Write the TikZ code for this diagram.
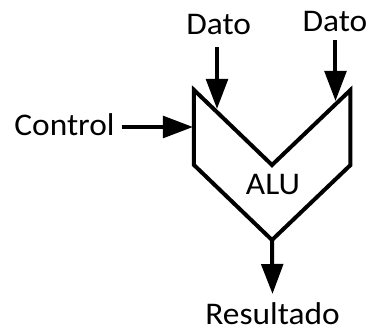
\documentclass[tikz,border=0pt]{standalone}
\usepackage{fontspec}
\setmainfont[FakeStretch=1.06]{Carlito}
\usetikzlibrary{arrows.meta}
\tikzset{
  lbl/.style={inner sep=0pt,anchor=base,font=\fontsize{31.5}{31.5}\selectfont,text=black},
  alubody/.style={draw=black,line width=4pt,line join=miter,fill=white},
  sig/.style={draw=black,line width=4pt,-{Triangle[length=30pt,width=21.5pt,sep=0pt]}},
}
\begin{document}
\begin{tikzpicture}[x=1pt,y=-1pt]
\useasboundingbox (0,0) rectangle (368,329);
\coordinate (tl) at (194,90);
\coordinate (notch) at (272,165);
\coordinate (tr) at (350.5,90);
\coordinate (br) at (350.5,165);
\coordinate (bot) at (272,240);
\coordinate (bl) at (194,165);
\draw[alubody] (tl) -- (notch) -- (tr) -- (br) -- (bot) -- (bl) -- cycle;
\node[lbl] (alu) at (273,194.3) {ALU};
\node[lbl] (dato1) at (218.7,35) {Dato};
\node[lbl] (dato2) at (335,31.7) {Dato};
\node[lbl] (control) at (64.5,136) {Control};
\node[lbl] (result) at (272.5,325) {Resultado};
\coordinate (d1s) at (217,47);
\coordinate (d1e) at (217,109);
\coordinate (d2s) at (335.5,40);
\coordinate (d2e) at (335.5,101);
\coordinate (cs) at (122,127);
\coordinate (ce) at (193,127);
\coordinate (re) at (272.5,294);
\draw[sig] (d1s) -- (d1e);
\draw[sig] (d2s) -- (d2e);
\draw[sig] (cs) -- (ce);
\draw[sig] (bot) -- (re);
\end{tikzpicture}
\end{document}
